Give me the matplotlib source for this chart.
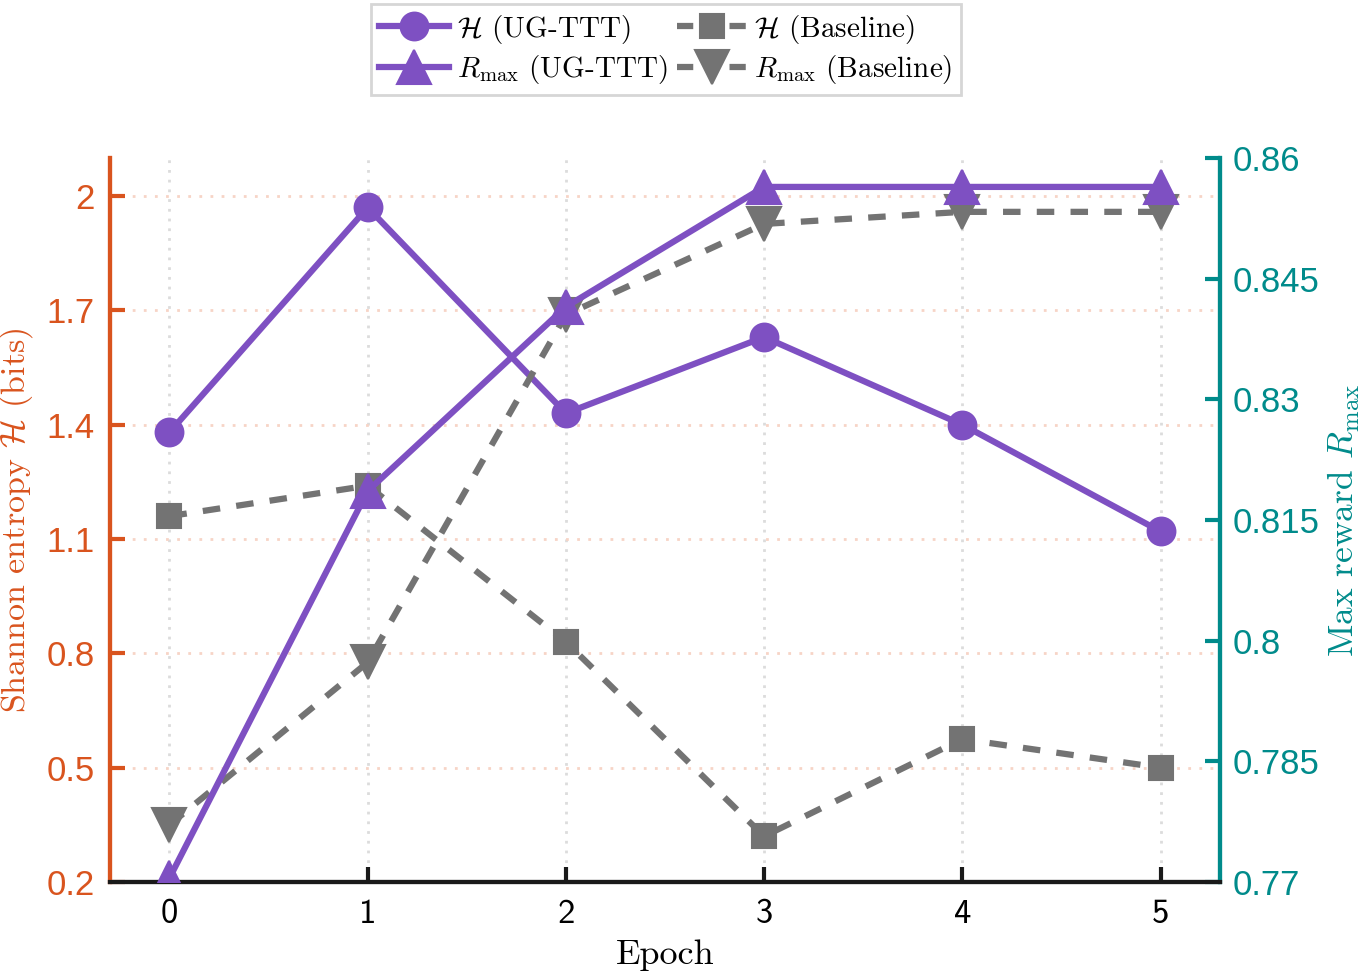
import numpy as np
import matplotlib
matplotlib.use("Agg")
import matplotlib.pyplot as plt
from matplotlib.lines import Line2D

plt.rcParams['mathtext.fontset'] = 'cm'
plt.rcParams['font.family'] = ['cmr10', 'DejaVu Serif']
plt.rcParams['axes.formatter.use_mathtext'] = True

epochs = [0, 1, 2, 3, 4, 5]
entropy_ugttt = [1.38, 1.97, 1.43, 1.63, 1.40, 1.12]
entropy_base = [1.16, 1.24, 0.83, 0.32, 0.575, 0.50]
rmax_ugttt = [0.7705, 0.8186, 0.8415, 0.8564, 0.8564, 0.8564]
rmax_base = [0.7771, 0.7973, 0.8405, 0.8518, 0.8533, 0.8533]

left_ticks = [0.2, 0.5, 0.8, 1.1, 1.4, 1.7, 2.0]
right_ticks = [0.77, 0.785, 0.8, 0.815, 0.83, 0.845, 0.86]

purple = '#7E50C2'
gray = '#737373'
orange = '#D9541E'
teal = '#008B8B'

fig = plt.figure(figsize=(13.7, 9.75), dpi=100)
ax = fig.add_axes([0.0803, 0.0954, 0.8102, 0.7426])
ax2 = ax.twinx()

lw = 4.5
dash = (2.8, 2.6)
ax.plot(epochs, entropy_ugttt, color=purple, lw=lw, marker='o', ms=20, mew=1.5, zorder=3)
ax.plot(epochs, entropy_base, color=gray, lw=lw, dashes=dash, marker='s', ms=17, mew=1.5, zorder=2)
ax2.plot(epochs, rmax_ugttt, color=purple, lw=lw, marker='^', ms=24, mew=1.5, zorder=3)
ax2.plot(epochs, rmax_base, color=gray, lw=lw, dashes=dash, marker='v', ms=24, mew=1.5, zorder=2)

ax.set_xlim(-0.3, 5.3)
ax.set_ylim(0.2, 2.1)
ax2.set_ylim(0.77, 0.86)

ax.set_xticks(epochs)
ax.set_xticklabels([str(e) for e in epochs], fontfamily='cmss10', fontsize=25)
ax.set_yticks(left_ticks)
ax.set_yticklabels(['%g' % t for t in left_ticks], fontfamily='Liberation Sans',
                   fontsize=25, color=orange)
ax2.set_yticks(right_ticks)
ax2.set_yticklabels(['%g' % t for t in right_ticks], fontfamily='Liberation Sans',
                    fontsize=25, color=teal)

ax.tick_params(axis='x', direction='in', length=11, width=3, pad=12, color='#1a1a1a')
ax.tick_params(axis='y', direction='in', length=11, width=3, pad=11, color=orange)
ax2.tick_params(axis='y', direction='in', length=11, width=3, pad=9, color=teal)

for a in (ax, ax2):
    a.spines['top'].set_visible(False)
    a.spines['left'].set_color(orange)
    a.spines['right'].set_color(teal)
    a.spines['bottom'].set_color('#1a1a1a')
    for s in ('left', 'right', 'bottom'):
        a.spines[s].set_linewidth(3)

ax.xaxis.grid(True, linestyle=(0, (1, 2.5)), color='#dcdcdc', lw=2)
ax.yaxis.grid(True, linestyle=(0, (1, 3)), color='#f7d4c6', lw=2)
ax.set_axisbelow(True)

ax.set_xlabel('Epoch', fontsize=26, labelpad=7)
ax.set_ylabel(r'Shannon entropy $\mathcal{H}$ (bits)', fontsize=24.5, color=orange, labelpad=8)
ax2.set_ylabel(r'Max reward $R_{\max}$', fontsize=25.5, color=teal, labelpad=5)

# legend proxies so the dashed handles read "- marker -"
leg_dash = (0, (2.6, 5.8))
h1 = Line2D([], [], color=purple, lw=lw, marker='o', ms=20, mew=1.5)
h2 = Line2D([], [], color=gray, lw=lw, linestyle=leg_dash, marker='s', ms=17, mew=1.5)
h3 = Line2D([], [], color=purple, lw=lw, marker='^', ms=24, mew=1.5)
h4 = Line2D([], [], color=gray, lw=lw, linestyle=leg_dash, marker='v', ms=24, mew=1.5)
labels = [r'$\mathcal{H}$ (UG-TTT)', r'$R_{\max}$ (UG-TTT)',
          r'$\mathcal{H}$ (Baseline)', r'$R_{\max}$ (Baseline)']

leg = fig.legend([h1, h3, h2, h4], labels, ncol=2, loc='upper center',
                 bbox_to_anchor=(0.486, 0.996), borderaxespad=0, fontsize=21,
                 frameon=True, fancybox=False, edgecolor='#cccccc', handlelength=2.4,
                 columnspacing=0.3, handletextpad=0.25, borderpad=0.3,
                 labelspacing=0.25)
leg.get_frame().set_linewidth(2)

fig.savefig('out.png', dpi=100)
